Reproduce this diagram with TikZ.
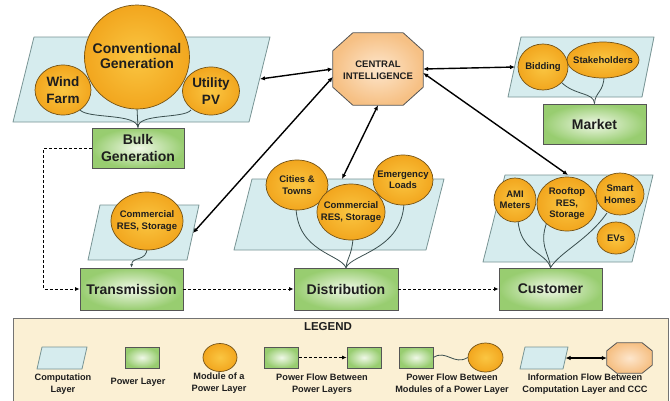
\documentclass[tikz,border=0pt]{standalone}
\usepackage{fontspec}
\setmainfont{Liberation Sans}
\usetikzlibrary{arrows.meta,calc,shapes.geometric}

\definecolor{paraFill}{RGB}{214,236,238}
\definecolor{paraLine}{RGB}{120,148,148}
\definecolor{modIn}{RGB}{250,198,66}
\definecolor{modOut}{RGB}{242,166,30}
\definecolor{modLine}{RGB}{115,82,22}
\definecolor{boxIn}{RGB}{240,248,232}
\definecolor{boxOut}{RGB}{152,205,112}
\definecolor{boxLine}{RGB}{85,85,85}
\definecolor{octIn}{RGB}{253,230,204}
\definecolor{octOut}{RGB}{246,192,132}
\definecolor{legFill}{RGB}{251,240,212}
\definecolor{legLine}{RGB}{115,115,115}
\definecolor{flowLine}{RGB}{58,78,78}
\definecolor{txt}{RGB}{30,30,30}

\newcommand\fBig{\fontsize{14}{17.5}\selectfont\bfseries}
\newcommand\fConv{\fontsize{14}{15.5}\selectfont\bfseries}
\newcommand\fMid{\fontsize{13.5}{16.5}\selectfont\bfseries}
\newcommand\fSmall{\fontsize{9.5}{11.5}\selectfont\bfseries}
\newcommand\fLeg{\fontsize{9.2}{11.5}\selectfont\bfseries}
\newcommand\fTitle{\fontsize{11.5}{14}\selectfont\bfseries}

\begin{document}
\begin{tikzpicture}[x=1pt,y=-1pt,
  para/.style={fill=paraFill,draw=paraLine,line width=0.8pt,line join=round},
  module/.style={ellipse,draw=modLine,line width=0.7pt,inner color=modIn,outer color=modOut,inner sep=0pt},
  modtext/.style={font=\fSmall,align=center,text=txt,inner sep=0pt},
  layer/.style={rectangle,draw=boxLine,line width=0.8pt,inner color=boxIn,outer color=boxOut,align=center,font=\fBig,text=txt,inner sep=0pt},
  octframe/.style={rectangle,inner sep=0pt},
  octa/.style={draw=boxLine,line width=0.8pt,inner color=octIn,outer color=octOut,line join=round},
  info/.style={line width=1.4pt,black,{Latex[length=5pt,width=4.5pt]}-{Latex[length=5pt,width=4.5pt]}},
  pflow/.style={line width=1pt,black,dash pattern=on 3pt off 2pt,-{Latex[length=4.5pt,width=4pt]}},
  mflow/.style={line width=0.8pt,draw=flowLine},
  mtip/.style={-{Latex[length=3.5pt,width=3pt]}},
  legtext/.style={font=\fLeg,align=center,text=txt,inner sep=0pt}]

\useasboundingbox (0,0) rectangle (670,400);
\fill[white] (0,0) rectangle (670,400);

% ---------- computation layers ----------
\path[para] (34,37) -- (270,37) -- (249,122) -- (13,122) -- cycle;
\path[para] (100,205) -- (199,205) -- (187,260) -- (88,260) -- cycle;
\path[para] (252,179) -- (444,179) -- (426,250) -- (234,250) -- cycle;
\path[para] (521,37) -- (654,37) -- (642,97) -- (508,97) -- cycle;
\path[para] (505,175) -- (653,175) -- (632,262) -- (483,262) -- cycle;

\coordinate (bulkE) at (260,79);
\coordinate (transE) at (193,233);
\coordinate (distN) at (342,179);
\coordinate (marketW) at (515,67);
\coordinate (custN) at (568,175);

% ---------- power layers ----------
\node[layer,minimum width=92,minimum height=40] (bulk) at (138,148) {Bulk\\Generation};
\node[layer,minimum width=103,minimum height=42] (trans) at (131.5,289) {Transmission};
\node[layer,minimum width=104,minimum height=42] (dist) at (346,289) {Distribution};
\node[layer,minimum width=103,minimum height=42] (cust) at (550.5,289) {Customer};
\node[layer,minimum width=103,minimum height=40] (market) at (594.5,124) {Market};

% ---------- module flows ----------
\draw[mflow,mtip] (137,108) -- (bulk.north);
\draw[mflow] (80,110) .. controls (88,119) and (137,113) .. (bulk.north);
\draw[mflow] (191,110) .. controls (184,119) and (137,113) .. (bulk.north);

\draw[mflow,mtip] (147,248) .. controls (147,262) and (132,256) .. (trans.north);

\draw[mflow] (296,208) .. controls (298,252) and (340,254) .. (dist.north);
\draw[mflow] (353,238) .. controls (352,255) and (347,258) .. (dist.north);
\draw[mflow] (404,203) .. controls (402,250) and (352,254) .. (dist.north);

\draw[mflow] (518,220) .. controls (520,252) and (546,252) .. (cust.north);
\draw[mflow] (547,222) .. controls (538,245) and (550,255) .. (cust.north);
\draw[mflow] (607,213) .. controls (588,240) and (560,252) .. (cust.north);

\draw[mflow] (561,82) .. controls (575,96) and (594,92) .. (market.north);
\draw[mflow] (604,76) .. controls (604,92) and (595,92) .. (market.north);

% ---------- modules ----------
\node[module,minimum width=105,minimum height=104] (conv) at (137,57) {};
\node[modtext,font=\fConv] (convT) at (137,56) {Conventional\\Generation};
\node[module,minimum width=56,minimum height=50] (wind) at (63,90) {};
\node[modtext,font=\fMid] (windT) at (wind) {Wind\\Farm};
\node[module,minimum width=57,minimum height=48] (util) at (211,91) {};
\node[modtext,font=\fMid] (utilT) at (util) {Utility\\PV};

\node[module,minimum width=72,minimum height=58] (tres) at (147,221) {};
\node[modtext] (tresT) at (tres) {Commercial\\RES, Storage};

\node[module,minimum width=62,minimum height=50] (city) at (297,185) {};
\node[modtext] (cityT) at (city) {Cities \&\\Towns};
\node[module,minimum width=60,minimum height=50] (emer) at (403,180) {};
\node[modtext] (emerT) at (emer) {Emergency\\Loads};
\node[module,minimum width=68,minimum height=56] (dres) at (351,212) {};
\node[modtext] (dresT) at (dres) {Commercial\\RES, Storage};

\node[module,minimum width=42,minimum height=44] (ami) at (515,200) {};
\node[modtext] (amiT) at (ami) {AMI\\Meters};
\node[module,minimum width=60,minimum height=54] (roof) at (567,204) {};
\node[modtext] (roofT) at (roof) {Rooftop\\RES,\\Storage};
\node[module,minimum width=48,minimum height=42] (smart) at (620,194) {};
\node[modtext] (smartT) at (smart) {Smart\\Homes};
\node[module,minimum width=38,minimum height=32] (ev) at (616,238) {};
\node[modtext] (evT) at (ev) {EVs};

\node[module,minimum width=72,minimum height=36] (stake) at (603,60) {};
\node[modtext] (stakeT) at (stake) {Stakeholders};
\node[module,minimum width=50,minimum height=46] (bid) at (543,67) {};
\node[modtext] (bidT) at (bid) {Bidding};

% ---------- central intelligence ----------
\node[octframe,minimum width=90,minimum height=72] (cci) at (378,69) {};
\path[octa] ($(cci.north west)+(20,0)$) -- ($(cci.north east)+(-20,0)$)
  -- ($(cci.north east)+(0,18)$) -- ($(cci.south east)+(0,-18)$)
  -- ($(cci.south east)+(-20,0)$) -- ($(cci.south west)+(20,0)$)
  -- ($(cci.south west)+(0,-18)$) -- ($(cci.north west)+(0,18)$) -- cycle;
\node[modtext] (cciT) at (378,70) {CENTRAL\\INTELLIGENCE};

% ---------- information flow ----------
\draw[info] (cci.west) -- (bulkE);
\draw[info] (cci.190) -- (transE);
\draw[info] (cci.south) -- (distN);
\draw[info] (cci.east) -- (marketW);
\draw[info] (cci.-5) -- (custN);

% ---------- power flow between layers ----------
\draw[pflow] (bulk.west) -- ++(-48,0) |- (trans.west);
\draw[pflow] (trans.east) -- (dist.west);
\draw[pflow] (dist.east) -- (cust.west);

% ---------- legend ----------
\path[fill=legFill,draw=legLine,line width=0.9pt] (13,318) rectangle (668,404);
\node[font=\fTitle,text=txt,inner sep=0pt] (legT) at (328,327) {LEGEND};

\path[para] (42,347) -- (87,347) -- (82,369) -- (37,369) -- cycle;
\node[legtext] (lg1) at (63,384) {Computation\\Layer};

\node[layer,minimum width=34,minimum height=21] (lbox) at (142,357.5) {};
\node[legtext] (lg2) at (138,382) {Power Layer};

\node[module,minimum width=34,minimum height=28] (lmod) at (220,357.5) {};
\node[legtext] (lg3) at (219,383) {Module of a\\Power Layer};

\node[layer,minimum width=34,minimum height=21] (lboxA) at (281.5,357.5) {};
\node[layer,minimum width=34,minimum height=21] (lboxB) at (364,357.5) {};
\draw[pflow] (lboxA.east) -- (lboxB.west);
\node[legtext] (lg4) at (322,384) {Power Flow Between\\Power Layers};

\node[layer,minimum width=34,minimum height=21] (lboxC) at (416,357.5) {};
\node[module,minimum width=35,minimum height=29] (lmodB) at (485.5,357.5) {};
\draw[mflow] (lboxC.east) .. controls (446,349) and (454,366) .. (lmodB.west);
\node[legtext] (lg5) at (452,384) {Power Flow Between\\Modules of a Power Layer};

\path[para] (525,347) -- (568,347) -- (563,369) -- (520,369) -- cycle;
\coordinate (lparaE) at (565.5,358);
\node[octframe,minimum width=45,minimum height=30] (locc) at (629.5,358) {};
\path[octa] ($(locc.north west)+(10,0)$) -- ($(locc.north east)+(-10,0)$)
  -- ($(locc.north east)+(0,8)$) -- ($(locc.south east)+(0,-8)$)
  -- ($(locc.south east)+(-10,0)$) -- ($(locc.south west)+(10,0)$)
  -- ($(locc.south west)+(0,-8)$) -- ($(locc.north west)+(0,8)$) -- cycle;
\draw[info] (lparaE) -- (locc.west);
\node[legtext] (lg6) at (585,384) {Information Flow Between\\Computation Layer and CCC};

\end{tikzpicture}
\end{document}
